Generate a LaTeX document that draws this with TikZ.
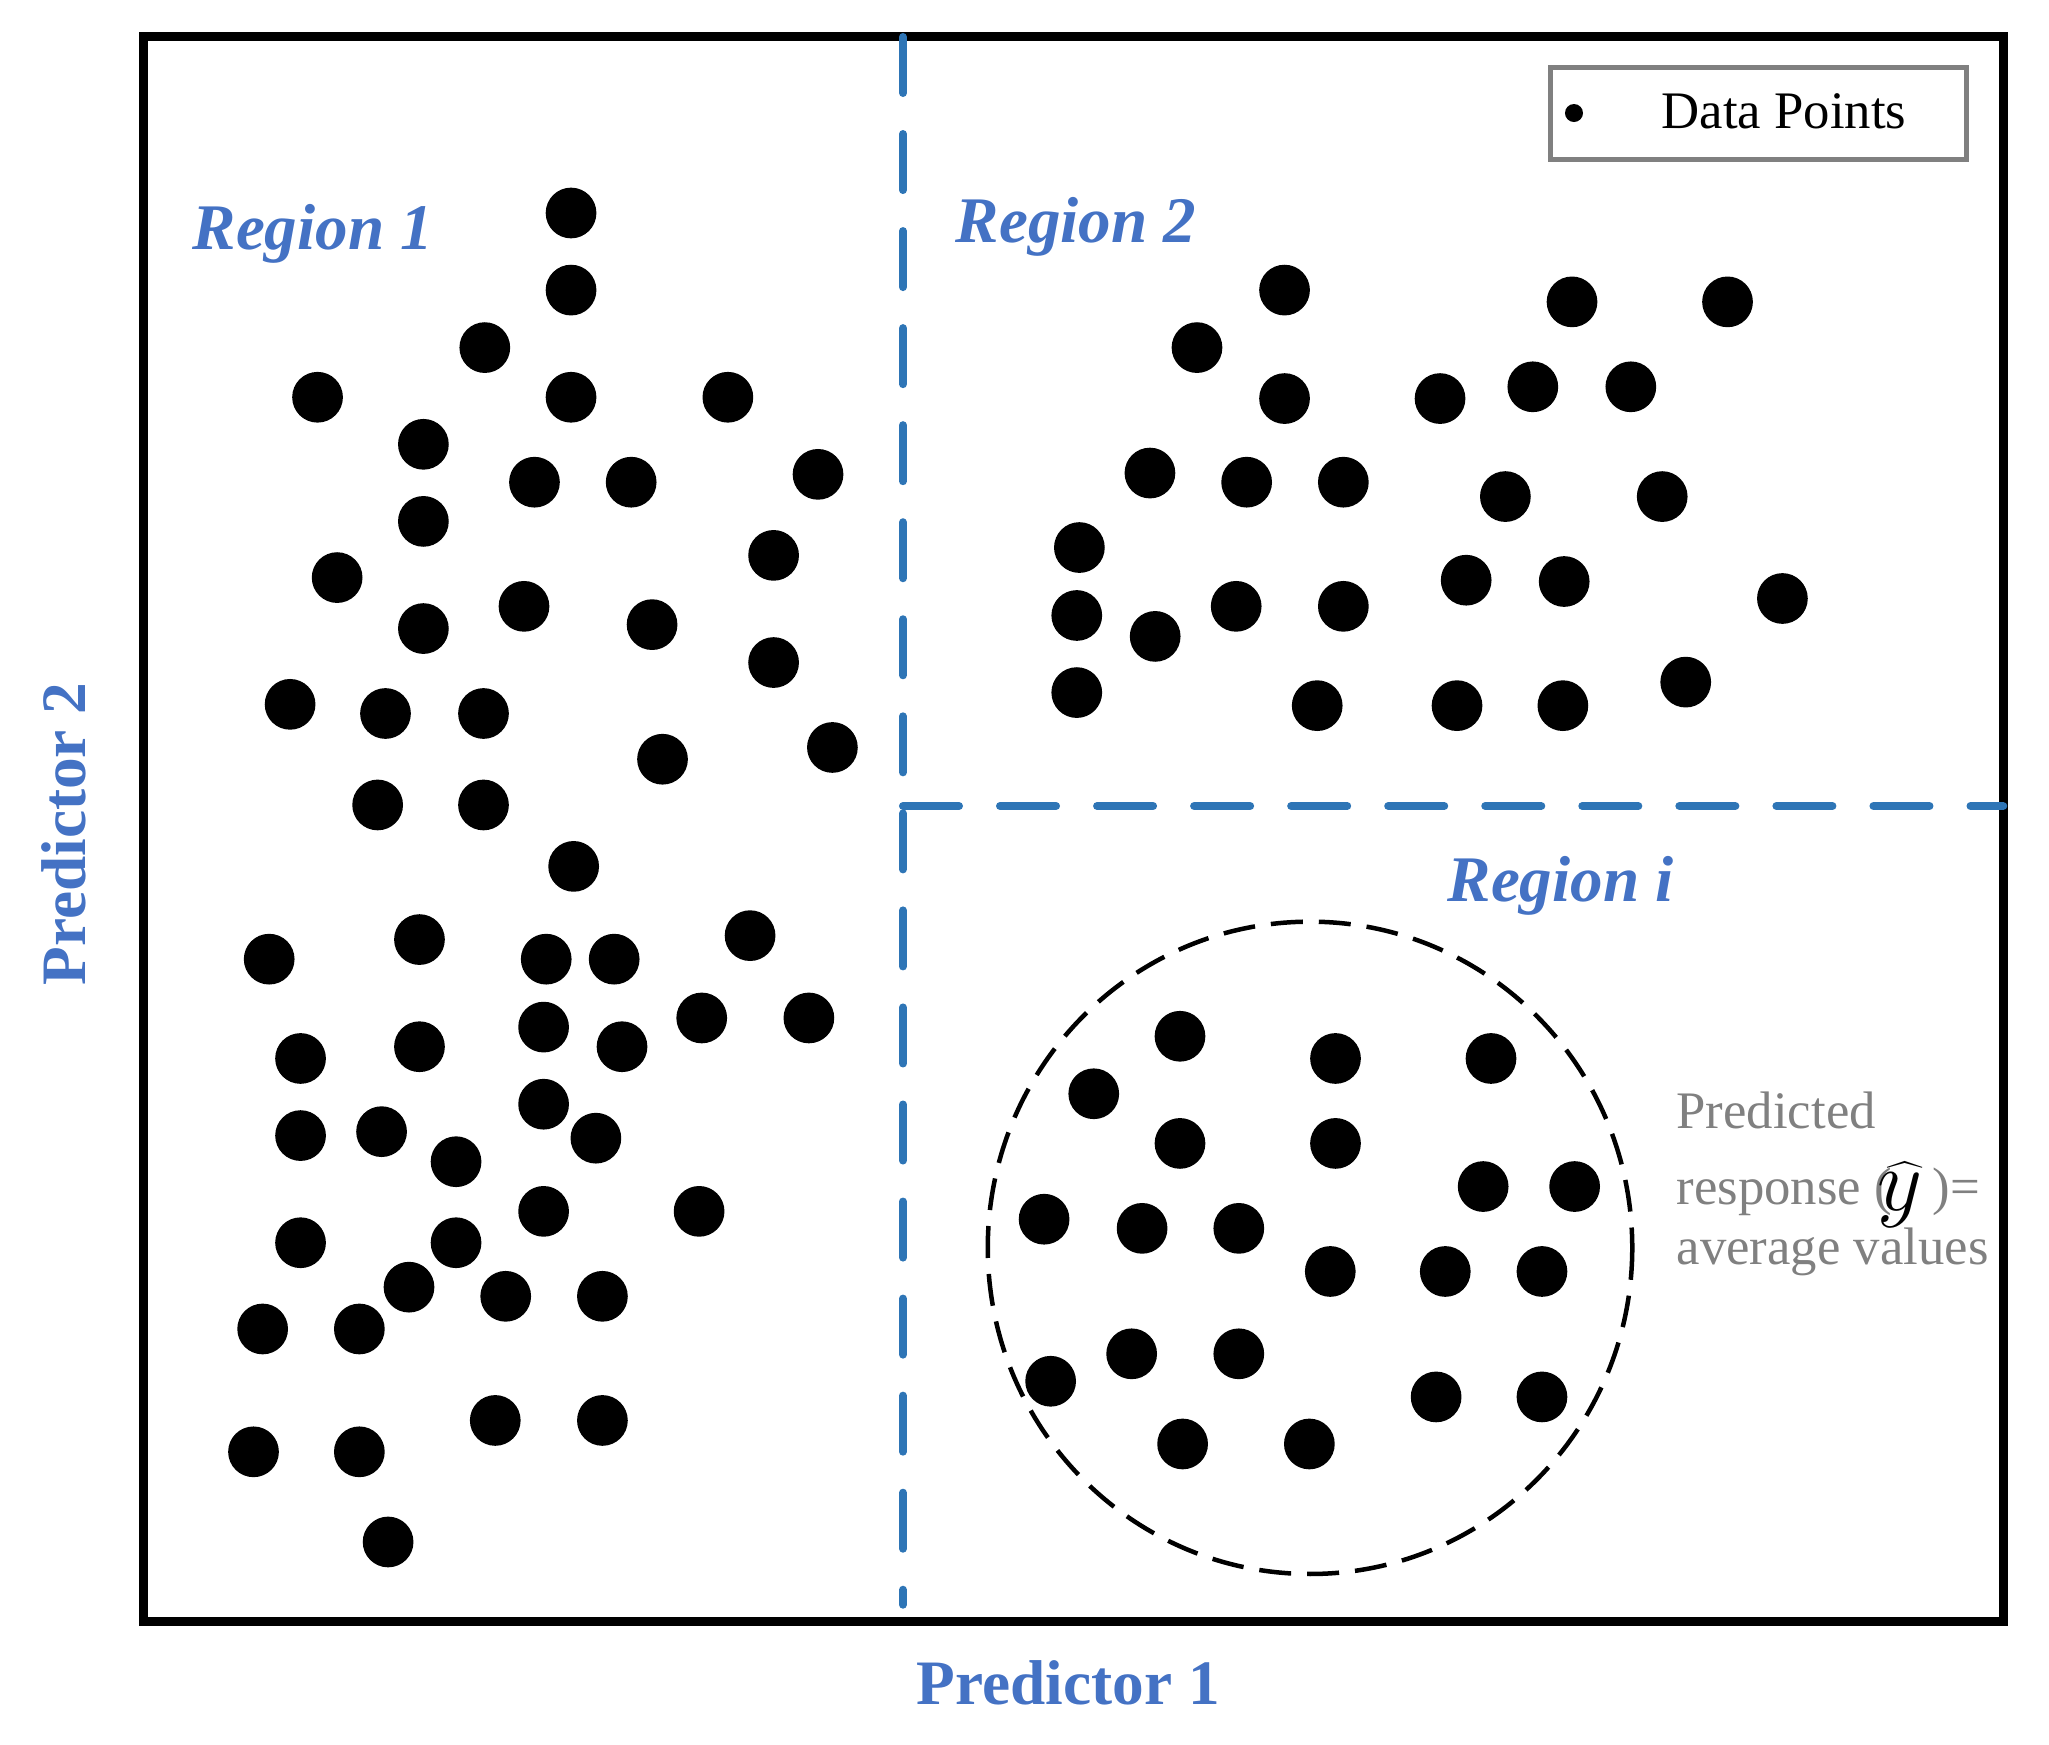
\documentclass[tikz,border=0pt]{standalone}
\usepackage{fontspec}
\setmainfont{Liberation Serif}
\definecolor{regblue}{HTML}{4472C4}
\definecolor{lineblue}{HTML}{2E75B6}
\definecolor{txtgray}{HTML}{808080}
\begin{document}
\begin{tikzpicture}[x=0.013068cm,y=-0.013068cm,
  dot/.style={circle,fill=black,inner sep=0pt,minimum size=0.507cm},
  legdot/.style={circle,fill=black,inner sep=0pt,minimum size=0.18cm},
  bluedash/.style={draw=lineblue,line width=0.08cm,line cap=round,dash pattern=on 0.56cm off 0.41cm},
  circdash/.style={draw=black,line width=0.045cm,dash pattern=on 0.32cm off 0.16cm},
  reglabel/.style={text=regblue,inner sep=0pt,anchor=base west,font=\fontsize{18.5}{22}\selectfont\bfseries\itshape},
  axlabel/.style={text=regblue,inner sep=0pt,anchor=base,font=\fontsize{18}{22}\selectfont\bfseries},
  graytxt/.style={text=txtgray,inner sep=0pt,anchor=base west,font=\fontsize{15}{18}\selectfont}]
\useasboundingbox (0,0) rectangle (1568,1335);
% frame
\draw[line width=0.09cm] (109.8,28.3) rectangle (1532.8,1240.8);
% dashed partition lines
\coordinate (vt) at (691,28.3);
\coordinate (vb) at (691,1228);
\coordinate (hl) at (691,616.8);
\coordinate (hr) at (1533,616.8);
\draw[bluedash] (vt) -- (vb);
\draw[bluedash] (hl) -- (hr);
% dashed circle
\draw[circdash] (1002.5,954.9) ellipse [x radius=246.6, y radius=249.6];
% data points
\foreach \px/\py [count=\i] in {
437/163,437/222,371/266,243/304,437/304,557/304,324/340,409/369,483/369,626/363,
324/399,592/425,258/442,401/464,324/481,499/478,592/507,222/539,295/546,370/546,
507/581,637/572,289/616,370/616,
439/663,206/734,321/719,418/734,470/734,574/716,230/810,321/801,416/786,476/801,
537/779,619/779,416/845,230/869,292/866,349/889,456/871,416/927,535/927,230/951,
349/951,313/985,387/992,461/992,201/1017,275/1017,379/1087,461/1087,194/1111,275/1111,297/1180,
983/222,916/266,1203/231,1322/231,983/305,1102/305,1173/296,1248/296,880/362,954/369,
1028/369,1152/380,1272/380,826/419,1122/444,1197/445,824/471,884/487,946/464,1028/464,
1364/458,824/530,1008/540,1115/540,1196/540,1290/522,
903/793,1022/810,1141/810,837/837,903/875,1022/875,1135/908,1205/908,799/933,874/940,
948/940,1018/973,1106/973,1180/973,866/1036,948/1036,804/1057,1099/1069,1180/1069,905/1105,1002/1105}
  \node[dot] (p\i) at (\px,\py) {};
% region labels
\node[reglabel] (r1) at (146.9,191.3) {Region 1};
\node[reglabel] (r2) at (731,185.5) {Region 2};
\node[reglabel] (ri) at (1107.3,690.2) {Region i};
% axis labels
\node[axlabel] (ax1) at (817.6,1304) {Predictor 1};
\node[axlabel,rotate=90] (ax2) at (65.6,638.2) {Predictor 2};
% legend
\draw[draw=txtgray,line width=0.05cm] (1186.5,51.7) rectangle (1504.8,122);
\node[legdot] (ld) at (1204.5,86.5) {};
\node[inner sep=0pt,anchor=base west,font=\fontsize{15}{18}\selectfont] (lt) at (1271,98.7) {Data Points};
% predicted response annotation
\node[graytxt] (t1) at (1282.5,863.2) {Predicted};
\node[graytxt] (t2) at (1282.5,922.1) {response (\hspace{0.41cm})=};
\node[graytxt] (t3) at (1282.5,967.3) {average values};
\node[inner sep=0pt,anchor=base,font=\fontsize{25}{30}\selectfont] (yh) at (1454,926.7) {$\widehat{y}$};
\end{tikzpicture}
\end{document}
